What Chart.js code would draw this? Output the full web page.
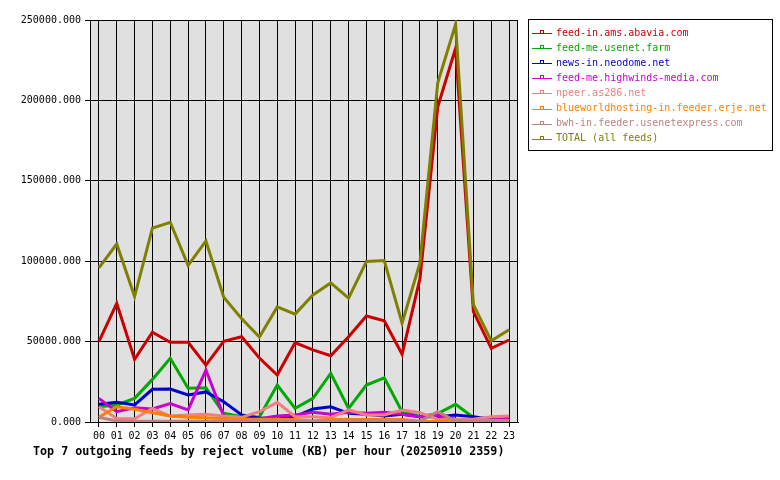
<!DOCTYPE html>
<html>
<head>
<meta charset="utf-8">
<script src="https://cdn.jsdelivr.net/npm/chart.js@4.4.0/dist/chart.umd.min.js"></script>
<style>
  html, body { margin: 0; padding: 0; background: #fff; }
  canvas { display: block; }
</style>
</head>
<body>
<canvas id="chart" width="780" height="480"></canvas>
<script>
const hours = ['00','01','02','03','04','05','06','07','08','09','10','11','12','13','14','15','16','17','18','19','20','21','22','23'];
const yTicks = [0, 50000, 100000, 150000, 200000, 250000];

const feedNames = [
    'feed-in.ams.abavia.com',
    'feed-me.usenet.farm',
    'news-in.neodome.net',
    'feed-me.highwinds-media.com',
    'npeer.as286.net',
    'blueworldhosting-in.feeder.erje.net',
    'bwh-in.feeder.usenetexpress.com',
    'TOTAL (all feeds)'
];
const feedColors = ['#cc0000', '#00aa00', '#0000cc', '#cc00cc', '#f08080', '#ff8000', '#c08080', '#808000'];

// reject volume in KB per hour
const abavia = [50000, 73800, 39000, 55800, 49600, 49600, 35400, 50200, 53000, 39800, 29200, 49300, 44800, 41200, 53000, 65900, 63000, 42100, 89000, 196000, 232400, 68600, 45800, 51000];
const usenetFarm = [9500, 10600, 14700, 26500, 39600, 21000, 21300, 5400, 3300, 3100, 23000, 8500, 14700, 30300, 8500, 23000, 27500, 6400, 3500, 5200, 11000, 2800, 1000, 1500];
const neodome = [11000, 12200, 10600, 20300, 20500, 16800, 18700, 12600, 4400, 2500, 1700, 3300, 8100, 9500, 5400, 4800, 3700, 4800, 3300, 3300, 4400, 3300, 1700, 2300];
const highwinds = [14700, 6400, 8900, 8100, 11400, 7500, 32300, 3700, 2000, 2000, 3700, 4400, 6000, 4800, 6000, 5400, 6000, 4800, 3300, 4400, 1700, 1500, 1500, 2900];
const npeer = [9500, 2200, 2000, 8500, 3700, 4400, 4800, 3700, 2900, 6400, 12200, 3300, 3300, 2700, 7500, 4400, 4400, 7500, 5800, 1700, 1700, 1700, 3300, 3700];
const erje = [3000, 9500, 7900, 5800, 3700, 2900, 2700, 2000, 1500, 1500, 1500, 1500, 700, 1500, 1500, 1500, 1500, 1500, 500, 300, 1000, 1000, 1000, 1000];
const usenetExpress = [3000, 600, 500, 500, 500, 500, 500, 500, 500, 500, 500, 500, 500, 500, 500, 500, 500, 500, 500, 6400, 500, 500, 500, 500];
const total = [95800, 110700, 78000, 120600, 124200, 97400, 112600, 77600, 64300, 52800, 71600, 67100, 79000, 86500, 77000, 99800, 100400, 61500, 98900, 211000, 247300, 73000, 50500, 57400];

const series = [abavia, usenetFarm, neodome, highwinds, npeer, erje, usenetExpress, total];
const chartTitle = 'Top 7 outgoing feeds by reject volume (KB) per hour (20250910 2359)';
const mono = "'DejaVu Sans Mono', 'Liberation Mono', monospace";

const plotLook = {
    id: 'plotLook',
    beforeDraw: function(chart) {
        const a = chart.chartArea;
        const c = chart.ctx;
        c.save();
        c.fillStyle = '#e0e0e0';
        c.fillRect(a.left, a.top, a.right - a.left, a.bottom - a.top);
        c.restore();
    },
    beforeDatasetsDraw: function(chart) {
        const a = chart.chartArea;
        const c = chart.ctx;
        c.save();
        c.strokeStyle = '#000';
        c.lineWidth = 1;
        c.beginPath();
        c.moveTo(Math.round(a.right) - 0.5, a.top);
        c.lineTo(Math.round(a.right) - 0.5, a.bottom);
        c.stroke();
        c.restore();
    },
    afterDraw: function(chart) {
        const c = chart.ctx;
        c.save();
        // legend box
        c.fillStyle = '#fff';
        c.fillRect(528, 19, 245, 132);
        c.strokeStyle = '#000';
        c.lineWidth = 1;
        c.strokeRect(528.5, 19.5, 244, 131);
        c.font = '10px ' + mono;
        c.textBaseline = 'middle';
        c.textAlign = 'left';
        feedNames.forEach(function(name, i) {
            const y = 33 + i * 15.1;
            const yy = Math.round(y) + 0.5;
            c.strokeStyle = feedColors[i];
            c.beginPath();
            c.moveTo(532, yy);
            c.lineTo(552, yy);
            c.stroke();
            c.strokeRect(540.5, yy - 3, 3, 3);
            c.fillStyle = feedColors[i];
            c.fillText(name, 556, y);
        });
        // title under the plot
        c.fillStyle = '#000';
        c.font = 'bold 11.7px ' + mono;
        c.fillText(chartTitle, 33, 452);
        c.restore();
    }
};

const ctx = document.getElementById('chart').getContext('2d');
new Chart(ctx, {
    type: 'line',
    data: {
        labels: hours,
        datasets: series.map(function(values, i) {
            return {
                label: feedNames[i],
                data: values,
                borderColor: feedColors[i],
                backgroundColor: feedColors[i],
                borderWidth: 3,
                pointRadius: 0,
                tension: 0,
                fill: false,
                order: series.length - i
            };
        })
    },
    options: {
        responsive: false,
        devicePixelRatio: 1,
        animation: false,
        layout: { padding: { top: 20, right: 262, left: 0, bottom: 0 } },
        plugins: {
            legend: { display: false },
            tooltip: { enabled: false }
        },
        scales: {
            x: {
                offset: true,
                grid: { color: '#000', lineWidth: 1, tickLength: 5, tickColor: '#000' },
                border: { color: '#000' },
                ticks: { color: '#000', font: { family: mono, size: 10 }, padding: 3, maxRotation: 0, autoSkip: false },
                afterFit: function(s) { s.height = 58; }
            },
            y: {
                min: 0,
                max: 250000,
                afterBuildTicks: function(s) { s.ticks = yTicks.map(function(v) { return { value: v }; }); },
                grid: { color: '#000', lineWidth: 1, tickLength: 5, tickColor: '#000' },
                border: { color: '#000' },
                ticks: {
                    color: '#000',
                    font: { family: mono, size: 10 },
                    padding: 4,
                    callback: function(v) { return Number(v).toFixed(3); }
                },
                afterFit: function(s) { s.width = 90; }
            }
        }
    },
    plugins: [plotLook]
});
</script>
</body>
</html>
